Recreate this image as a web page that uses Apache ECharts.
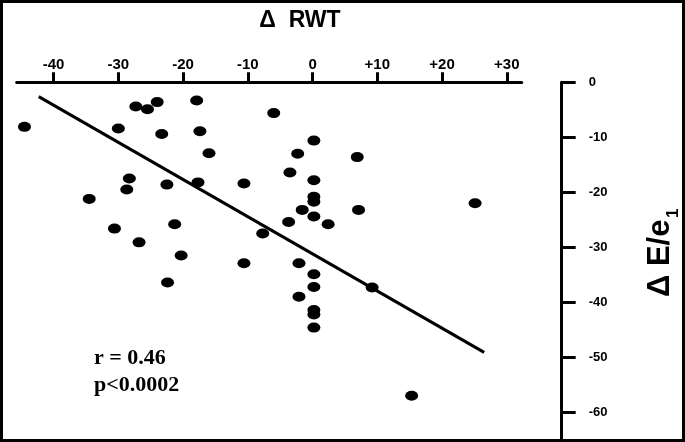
<!DOCTYPE html>
<html>
<head>
<meta charset="utf-8">
<script src="https://cdn.jsdelivr.net/npm/echarts@6/dist/echarts.min.js"></script>
<style>
html,body{margin:0;padding:0;background:#fff;}
#chart{width:685px;height:442px;}
</style>
</head>
<body>
<div id="chart"></div>
<script>
// ---- data ----
var xTicks = [-40, -30, -20, -10, 0, 10, 20, 30];
var yTicks = [0, -10, -20, -30, -40, -50, -60];
var deltaRWT = [-44.5, -30.0, -27.3, -25.5, -24.0, -17.9, -23.3, -17.4, -16.0, -6.0,
                0.2, -2.3, -3.5, 0.2, -28.3, -28.7, -22.5, -17.7, -10.6, -34.5,
                0.2, 0.2, -1.6, 0.2, -3.7, 2.4, -21.3, -30.6, -7.7, -26.8,
                -20.3, -10.6, -2.1, 0.2, -22.4, 6.9, 7.1, 25.1, 0.2, -2.1,
                0.2, 0.2, 0.2, 9.2, 15.3];
var deltaEe1 = [-8.1, -8.4, -4.4, -4.9, -3.6, -3.3, -9.4, -8.9, -12.9, -5.6,
                -10.6, -13.0, -16.4, -17.8, -17.5, -19.5, -18.6, -18.2, -18.4, -21.2,
                -20.8, -21.7, -23.2, -24.4, -25.4, -25.8, -25.8, -26.6, -27.5, -29.1,
                -31.5, -32.9, -32.9, -34.9, -36.4, -13.6, -23.2, -22.0, -37.2, -39.0,
                -41.4, -42.2, -44.6, -37.3, -57.0];
var fitX = [-42.3, 26.5];
var fitY = [-2.6, -49.1];
var xTitle = 'Δ  RWT';
var yTitle = 'Δ E/e';
var ySub = '1';
var statLines = ['r = 0.46', 'p<0.0002'];

// ---- build ----
var points = deltaRWT.map(function (x, i) { return [x, deltaEe1[i]]; });
var fitLine = fitX.map(function (x, i) { return [x, fitY[i]]; });

var chart = echarts.init(document.getElementById('chart'), null, {renderer: 'canvas'});
var sans = 'Liberation Sans, Arial, sans-serif';
var serif = 'Liberation Serif, Times New Roman, serif';

chart.setOption({
  backgroundColor: '#ffffff',
  animation: false,
  grid: {left: 16.7, top: 82.3, width: 505, height: 356.7},
  xAxis: {
    type: 'value', position: 'top', min: -45.7, max: 32.3,
    axisLine: {show: true, onZero: false, lineStyle: {color: '#000', width: 3}},
    axisTick: {show: true, inside: false, length: 10, lineStyle: {color: '#000', width: 3}, customValues: xTicks},
    axisLabel: {
      customValues: xTicks, margin: 10, color: '#000', fontSize: 15, fontWeight: 'bold', fontFamily: sans,
      formatter: function (v) { return v > 0 ? '+' + v : String(v); }
    },
    splitLine: {show: false}
  },
  yAxis: {
    type: 'value', position: 'right', offset: 40, min: -64.85, max: 0,
    axisLine: {show: true, onZero: false, lineStyle: {color: '#000', width: 3}},
    axisTick: {show: true, inside: false, length: 14, lineStyle: {color: '#000', width: 3}, customValues: yTicks},
    axisLabel: {customValues: yTicks, margin: 27, color: '#000', fontSize: 13, fontWeight: 'bold', fontFamily: sans},
    splitLine: {show: false}
  },
  series: [
    {
      type: 'line', data: fitLine, symbol: 'none', silent: true,
      lineStyle: {color: '#000', width: 3}, z: 2
    },
    {
      type: 'scatter', data: points, symbol: 'circle', symbolSize: [13, 10],
      itemStyle: {color: '#000', opacity: 1}, z: 3
    }
  ],
  graphic: [
    {type: 'rect', shape: {x: 1.5, y: 1.5, width: 682, height: 439}, style: {fill: null, stroke: '#000', lineWidth: 3}, silent: true},
    {type: 'text', x: 300, y: 21, style: {text: xTitle, font: 'bold 23px ' + sans, fill: '#000', textAlign: 'center', textVerticalAlign: 'middle'}},
    {type: 'text', x: 660, y: 297, rotation: Math.PI / 2, style: {text: yTitle, font: 'bold 31px ' + sans, fill: '#000', textAlign: 'left', textVerticalAlign: 'middle'}},
    {type: 'text', x: 673, y: 218, rotation: Math.PI / 2, style: {text: ySub, font: 'bold 17px ' + sans, fill: '#000', textAlign: 'left', textVerticalAlign: 'middle'}},
    {type: 'text', x: 94, y: 358.5, style: {text: statLines[0], font: 'bold 22px ' + serif, fill: '#000', textAlign: 'left', textVerticalAlign: 'middle'}},
    {type: 'text', x: 94, y: 385, style: {text: statLines[1], font: 'bold 22px ' + serif, fill: '#000', textAlign: 'left', textVerticalAlign: 'middle'}}
  ]
});
</script>
</body>
</html>
